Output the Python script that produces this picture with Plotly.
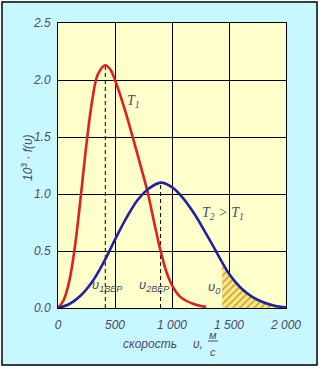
import plotly.graph_objects as go

# Maxwell speed distributions for two temperatures (10^3 * f(v))
V_T1 = [0, 50, 100, 150, 200, 250, 300, 350, 415, 460, 500, 580, 655, 735, 790, 850, 900, 950, 1000, 1070, 1190, 1300]
F_T1 = [0, 0.07, 0.24, 0.55, 0.98, 1.44, 1.82, 2.05, 2.13, 2.09, 2.0, 1.76, 1.5, 1.21, 1.0, 0.72, 0.50, 0.32, 0.20, 0.10, 0.035, 0.01]

V_T2 = [0, 100, 200, 300, 400, 500, 600, 700, 800, 900, 1000, 1100, 1200, 1300, 1385, 1440, 1500, 1600, 1700, 1800, 1900, 2000]
F_T2 = [0, 0.035, 0.11, 0.23, 0.40, 0.60, 0.79, 0.95, 1.05, 1.10, 1.06, 0.96, 0.82, 0.65, 0.50, 0.40, 0.30, 0.18, 0.10, 0.05, 0.02, 0.005]

V0 = 1440  # threshold speed for the shaded tail

X_TICKS = [0, 500, 1000, 1500, 2000]
X_TICK_TEXT = ["0", "500", "1 000", "1 500", "2 000"]
Y_TICKS = [0, 0.5, 1.0, 1.5, 2.0, 2.5]
Y_TICK_TEXT = ["0.0", "0.5", "1.0", "1.5", "2.0", "2.5"]

# ---- layout geometry (pixels) ----
W, H = 322, 369
ML, MR, MT, MB = 58, 36, 23, 61
PW, PH = W - ML - MR, H - MT - MB


def px_x(px):
    return (px - ML) / PW


def px_y(py):
    return (H - MB - py) / PH


TXT = "#4a4a66"
SANS = "Liberation Sans"
SERIF = "Liberation Serif"
RED = "#dd2020"
BLUE = "#2222a0"

fig = go.Figure()

# shaded tail v >= v0 under the T2 curve
tail_v = [v for v in V_T2 if v >= V0]
tail_f = [f for v, f in zip(V_T2, F_T2) if v >= V0]
fig.add_trace(go.Scatter(
    x=tail_v, y=tail_f, mode="lines", line=dict(width=0, shape="spline", smoothing=1.0),
    fill="tozeroy", fillcolor="#ffe27a",
    fillpattern=dict(shape="/", size=5, solidity=0.3, fgcolor="#7a5c00", bgcolor="#ffe680"),
    hoverinfo="skip", showlegend=False))

# most probable speeds
i1 = F_T1.index(max(F_T1))
i2 = F_T2.index(max(F_T2))
for vi, fi in ((V_T1[i1], F_T1[i1]), (V_T2[i2], F_T2[i2])):
    fig.add_trace(go.Scatter(
        x=[vi, vi], y=[0, fi], mode="lines",
        line=dict(color="black", width=1, dash="4px,3px"),
        hoverinfo="skip", showlegend=False))

fig.add_trace(go.Scatter(x=V_T1, y=F_T1, mode="lines",
                         line=dict(color=RED, width=2.6, shape="spline", smoothing=1.0),
                         showlegend=False))
fig.add_trace(go.Scatter(x=V_T2, y=F_T2, mode="lines",
                         line=dict(color=BLUE, width=2.6, shape="spline", smoothing=1.0),
                         showlegend=False))

shapes = [
    # outer panel
    dict(type="rect", xref="paper", yref="paper", layer="below",
         x0=px_x(2), x1=px_x(317), y0=px_y(365), y1=px_y(2),
         fillcolor="#c8f8ff", line=dict(color="black", width=1.5)),
    # plot area
    dict(type="rect", xref="x", yref="y", layer="below",
         x0=0, x1=2000, y0=0, y1=2.5, fillcolor="#ffffcc", line=dict(width=0)),
    # fraction bar of the unit
    dict(type="line", xref="paper", yref="paper",
         x0=px_x(208), x1=px_x(218), y0=px_y(341), y1=px_y(341),
         line=dict(color=TXT, width=1)),
]

ann = []


def label(x, y, text, size=12, family=SERIF, xref="x", yref="y", angle=0, xanchor="center"):
    ann.append(dict(x=x, y=y, xref=xref, yref=yref, text=text, showarrow=False,
                    textangle=angle, xanchor=xanchor, yanchor="middle",
                    font=dict(family=family, size=size, color=TXT, style="italic")))


label(658, 1.81, "T<sub>1</sub>", size=14)
label(1447, 0.83, "T<sub>2</sub> > T<sub>1</sub>", size=14)
label(430, 0.20, "υ<sub>1ВЕР</sub>", size=13, family=SANS)
label(842, 0.20, "υ<sub>2ВЕР</sub>", size=13, family=SANS)
label(1368, 0.18, "υ<sub>0</sub>", size=13, family=SANS)

# axis titles
label(px_x(150), px_y(344), "скорость", size=12, family=SANS, xref="paper", yref="paper")
label(px_x(198), px_y(344), "υ,", size=12, family=SANS, xref="paper", yref="paper")
label(px_x(213), px_y(335), "м", size=11, family=SANS, xref="paper", yref="paper")
label(px_x(213), px_y(352), "с", size=11, family=SANS, xref="paper", yref="paper")
label(px_x(27), px_y(158), "10<sup>3</sup> · f(υ)", size=12, family=SANS,
      xref="paper", yref="paper", angle=-90)

axis_common = dict(showgrid=True, gridcolor="black", gridwidth=1,
                   showline=True, linecolor="black", linewidth=1, mirror=True,
                   zeroline=False, ticks="",
                   tickfont=dict(family=SANS, size=12, color=TXT, style="italic"))

fig.update_layout(
    width=W, height=H,
    margin=dict(l=ML, r=MR, t=MT, b=MB),
    paper_bgcolor="white", plot_bgcolor="rgba(0,0,0,0)",
    xaxis=dict(range=[0, 2000], tickvals=X_TICKS, ticktext=X_TICK_TEXT,
               ticklabelstandoff=6, **axis_common),
    yaxis=dict(range=[0, 2.5], tickvals=Y_TICKS, ticktext=Y_TICK_TEXT,
               ticklabelstandoff=4, **axis_common),
    shapes=shapes, annotations=ann, showlegend=False,
)

fig.write_html("out.html")
